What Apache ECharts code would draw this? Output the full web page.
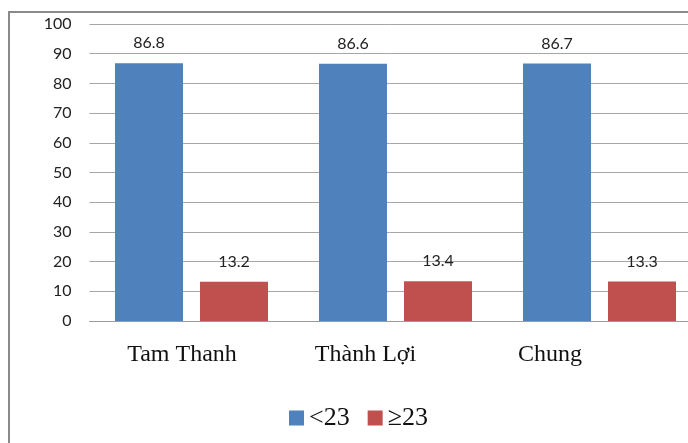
<!DOCTYPE html>
<html>
<head>
<meta charset="utf-8">
<script src="https://cdn.jsdelivr.net/npm/echarts@6/dist/echarts.min.js"></script>
<style>
  html, body { margin: 0; padding: 0; background: #fff; }
  #chart { width: 688px; height: 443px; }
</style>
</head>
<body>
<div id="chart"></div>
<script>
// Share of respondents by score group, per commune
const categories = ['Tam Thanh', 'Thành Lợi', 'Chung'];
const below23 = [86.8, 86.6, 86.7];
const atLeast23 = [13.2, 13.4, 13.3];
const seriesNames = ['<23', '≥23'];
// small per-label shifts so the category names sit as in the layout
const labelShift = [19, 60, 99];

const chart = echarts.init(document.getElementById('chart'));

const labelStyle = {
  show: true,
  position: 'top',
  distance: 12,
  fontFamily: 'Lato',
  fontSize: 16,
  color: '#222'
};

chart.setOption({
  animation: false,
  backgroundColor: '#fff',
  graphic: [{
    type: 'rect',
    shape: { x: 9, y: 12, width: 700, height: 460 },
    style: { fill: 'none', stroke: '#8a8a8a', lineWidth: 2 },
    z: -1
  }],
  // plot area runs past the right edge of the canvas
  grid: {
    left: 89.5, width: 612, top: 24, height: 297,
    containLabel: false, outerBoundsMode: 'none'
  },
  legend: {
    left: 284,
    top: 400,
    itemWidth: 15,
    itemHeight: 15,
    itemGap: 18,
    icon: 'rect',
    textStyle: { fontFamily: 'Liberation Serif', fontSize: 26, color: '#111' },
    data: seriesNames
  },
  xAxis: {
    type: 'category',
    data: categories.map((c, i) => ({
      value: c,
      textStyle: { padding: [0, labelShift[i], 0, 0] }
    })),
    axisLine: { show: true, lineStyle: { color: '#9a9a9a', width: 1 } },
    axisTick: { show: false },
    axisLabel: {
      fontFamily: 'Liberation Serif',
      fontSize: 24,
      color: '#111',
      margin: 22
    }
  },
  yAxis: {
    type: 'value',
    min: 0,
    max: 100,
    interval: 10,
    axisLine: { show: false },
    axisTick: { show: false },
    axisLabel: {
      fontFamily: 'Lato',
      fontSize: 16,
      color: '#222',
      margin: 18
    },
    splitLine: { lineStyle: { color: '#a6a6a6', width: 1 } }
  },
  series: [
    {
      name: seriesNames[0],
      type: 'bar',
      data: below23,
      barGap: '25%',
      barCategoryGap: '25%',
      itemStyle: { color: '#4F81BD' },
      label: labelStyle
    },
    {
      name: seriesNames[1],
      type: 'bar',
      data: atLeast23,
      itemStyle: { color: '#C0504D' },
      label: labelStyle
    }
  ]
});
</script>
</body>
</html>
